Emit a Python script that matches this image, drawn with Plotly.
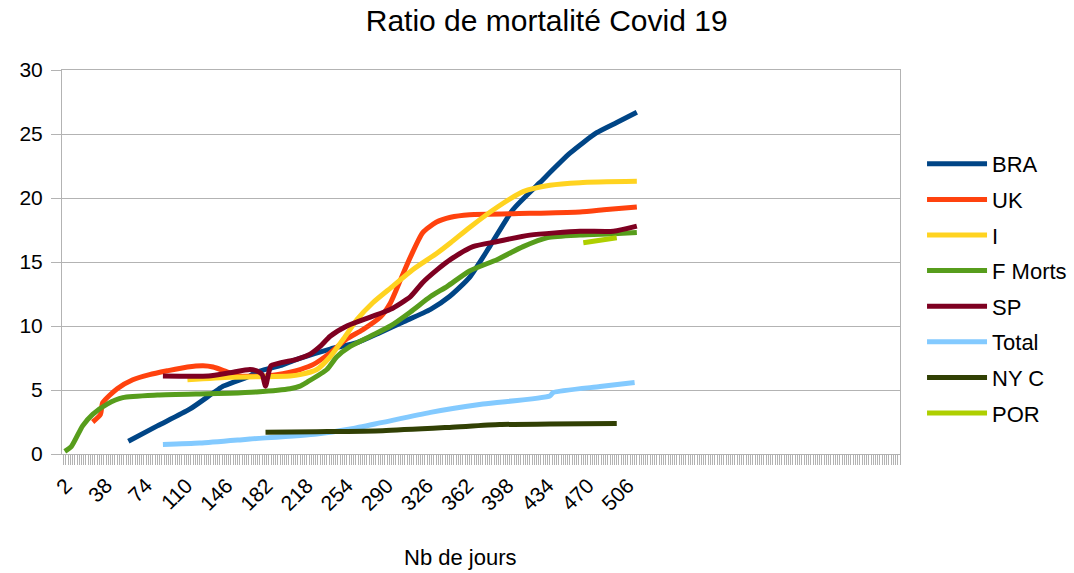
import plotly.graph_objects as go

# Jours / ratio
bra_jours = [58, 84, 113, 143, 149, 167, 173, 194, 209, 239, 263, 284, 304, 329, 346, 364, 382, 403, 427, 454, 478, 496, 514]
bra_ratio = [1.0, 2.2, 3.5, 5.3, 5.5, 6.1, 6.4, 6.9, 7.4, 8.2, 8.7, 9.5, 10.3, 11.3, 12.3, 13.8, 16.2, 19.1, 21.2, 23.5, 25.1, 25.9, 26.7]

uk_jours = [26, 33, 35, 48, 62, 77, 93, 111, 125, 134, 147, 158, 182, 203, 212, 224, 239, 254, 268, 284, 293, 302, 311, 322, 334, 347, 364, 418, 463, 487, 514]
uk_ratio = [2.5, 3.1, 4.0, 5.1, 5.8, 6.2, 6.5, 6.8, 6.9, 6.8, 6.4, 6.1, 6.1, 6.4, 6.6, 7.0, 7.9, 9.0, 9.7, 10.7, 11.8, 13.6, 15.4, 17.3, 18.1, 18.5, 18.7, 18.8, 18.9, 19.1, 19.3]

i_jours = [111, 150, 203, 212, 227, 239, 251, 263, 277, 295, 313, 335, 347, 364, 389, 412, 436, 463, 514]
i_ratio = [5.8, 6.0, 6.1, 6.2, 6.6, 7.6, 9.0, 10.5, 11.8, 13.1, 14.4, 15.7, 16.5, 17.7, 19.3, 20.5, 21.0, 21.2, 21.3]

f_jours = [1, 7, 17, 26, 39, 53, 84, 128, 149, 173, 203, 212, 218, 236, 245, 257, 275, 293, 311, 329, 344, 364, 389, 412, 434, 463, 493, 514]
f_ratio = [0.2, 0.6, 2.2, 3.1, 3.9, 4.4, 4.6, 4.7, 4.75, 4.85, 5.1, 5.3, 5.6, 6.6, 7.6, 8.4, 9.2, 10.0, 11.1, 12.3, 13.1, 14.3, 15.2, 16.2, 16.9, 17.1, 17.2, 17.3]

sp_jours = [89, 130, 149, 167, 173, 178, 181, 184, 186, 209, 221, 230, 239, 254, 275, 293, 311, 322, 335, 347, 367, 389, 418, 463, 493, 514]
sp_ratio = [6.1, 6.1, 6.35, 6.6, 6.5, 6.2, 5.3, 6.4, 6.9, 7.4, 7.8, 8.4, 9.2, 10.0, 10.7, 11.3, 12.3, 13.4, 14.4, 15.2, 16.2, 16.6, 17.1, 17.4, 17.4, 17.8]

total_jours = [89, 122, 158, 167, 227, 257, 286, 329, 376, 436, 439, 481, 512]
total_ratio = [0.75, 0.85, 1.1, 1.17, 1.56, 1.95, 2.47, 3.25, 3.9, 4.54, 4.8, 5.27, 5.58]

nyc_jours = [181, 227, 286, 346, 391, 436, 496]
nyc_ratio = [1.69, 1.74, 1.82, 2.08, 2.3, 2.34, 2.39]

por_jours = [466, 496]
por_ratio = [16.5, 16.9]

x_ticks = list(range(2, 507, 36))

series = [
    ("BRA", bra_jours, bra_ratio, "#004586"),
    ("UK", uk_jours, uk_ratio, "#ff420e"),
    ("I", i_jours, i_ratio, "#ffd320"),
    ("F Morts", f_jours, f_ratio, "#579d1c"),
    ("SP", sp_jours, sp_ratio, "#7e0021"),
    ("Total", total_jours, total_ratio, "#83caff"),
    ("NY C", nyc_jours, nyc_ratio, "#314004"),
    ("POR", por_jours, por_ratio, "#aecf00"),
]

fig = go.Figure()
for nom, jours, ratio, couleur in series:
    fig.add_trace(go.Scatter(
        x=jours, y=ratio, name=nom, mode="lines", legendgroup=nom,
        line=dict(color=couleur, width=5, shape="spline", smoothing=0.6),
    ))

grid = "#b3b3b3"
fig.update_layout(
    width=1074, height=573,
    paper_bgcolor="white", plot_bgcolor="white",
    font=dict(family="Liberation Sans, Arial, sans-serif", size=21, color="black"),
    margin=dict(l=62, r=174, t=70, b=119),
    title=dict(text="Ratio de mortalité Covid 19", x=0.509, xanchor="center",
               y=0.965, yanchor="middle", font=dict(size=30)),
    legend=dict(x=0.8585, xref="container", xanchor="left",
                y=0.7504, yref="container", yanchor="top",
                font=dict(size=22), tracegroupgap=4, itemwidth=60,
                maxheight=500, bgcolor="rgba(0,0,0,0)"),
    showlegend=True,
)
fig.update_xaxes(
    range=[-1.5, 750], tickmode="array", tickvals=x_ticks,
    ticktext=[str(v) for v in x_ticks], tickangle=-45,
    ticks="outside", ticklen=10, tickcolor=grid, ticklabelstandoff=0,
    minor=dict(ticks="outside", dtick=2, tick0=0, ticklen=10, tickcolor=grid),
    showline=True, linecolor=grid, linewidth=1, mirror=True,
    showgrid=False, zeroline=False,
)
fig.update_yaxes(
    range=[0, 30], dtick=5, ticks="outside", ticklen=10, tickcolor=grid,
    ticklabelstandoff=4,
    showline=True, linecolor=grid, linewidth=1, mirror=True,
    showgrid=True, gridcolor=grid, zeroline=False,
)
fig.add_annotation(text="Nb de jours", x=0.475, xref="paper", y=-0.27, yref="paper",
                   xanchor="center", yanchor="middle", showarrow=False,
                   font=dict(size=22))

fig.write_html(
    "out.html",
    config={"displayModeBar": False},
    post_script="document.body.style.margin='0';document.body.style.overflow='hidden';",
)
